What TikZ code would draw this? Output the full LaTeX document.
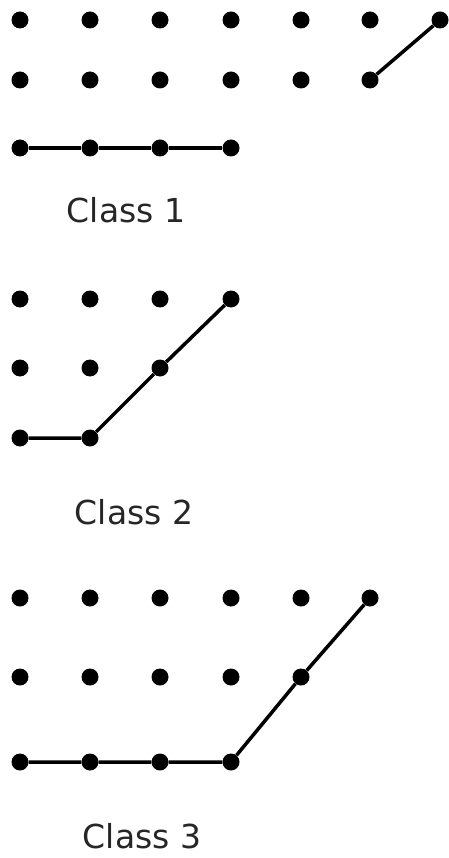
\documentclass[tikz,border=0pt]{standalone}
\usepackage{fontspec}
\setmainfont{DejaVu Sans}
\begin{document}
\begin{tikzpicture}[x=1pt,y=-1pt,
  dot/.style={circle,fill=black,inner sep=0pt,minimum size=17pt},
  seg/.style={line width=3.5pt,black},
  lbl/.style={inner sep=0pt,text=black!85,font=\fontsize{33}{38}\selectfont}]
\useasboundingbox (0,0) rectangle (449,858);
% Class 1
\foreach \i/\x in {1/20,2/90,3/160,4/231,5/301,6/370,7/440}
  \node[dot] (a1\i) at (\x,20) {};
\foreach \i/\x in {1/20,2/90,3/160,4/231,5/301,6/370}
  \node[dot] (a2\i) at (\x,80) {};
\foreach \i/\x in {1/20,2/90,3/160,4/231}
  \node[dot] (a3\i) at (\x,148) {};
\draw[seg] (a26) -- (a17);
\draw[seg] (a31) -- (a32) -- (a33) -- (a34);
\node[lbl] (l1) at (126,210) {Class 1};
% Class 2
\foreach \i/\x in {1/20,2/90,3/160,4/231}
  \node[dot] (b1\i) at (\x,299) {};
\foreach \i/\x in {1/20,2/90,3/160}
  \node[dot] (b2\i) at (\x,368) {};
\foreach \i/\x in {1/20,2/90}
  \node[dot] (b3\i) at (\x,438) {};
\draw[seg] (b31) -- (b32) -- (b23) -- (b14);
\node[lbl] (l2) at (134,512) {Class 2};
% Class 3
\foreach \i/\x in {1/20,2/90,3/160,4/231,5/301,6/370}
  \node[dot] (c1\i) at (\x,598) {};
\foreach \i/\x in {1/20,2/90,3/160,4/231,5/301}
  \node[dot] (c2\i) at (\x,677) {};
\foreach \i/\x in {1/20,2/90,3/160,4/231}
  \node[dot] (c3\i) at (\x,762) {};
\draw[seg] (c31) -- (c32) -- (c33) -- (c34) -- (c25) -- (c16);
\node[lbl] (l3) at (142,836) {Class 3};
\end{tikzpicture}
\end{document}
